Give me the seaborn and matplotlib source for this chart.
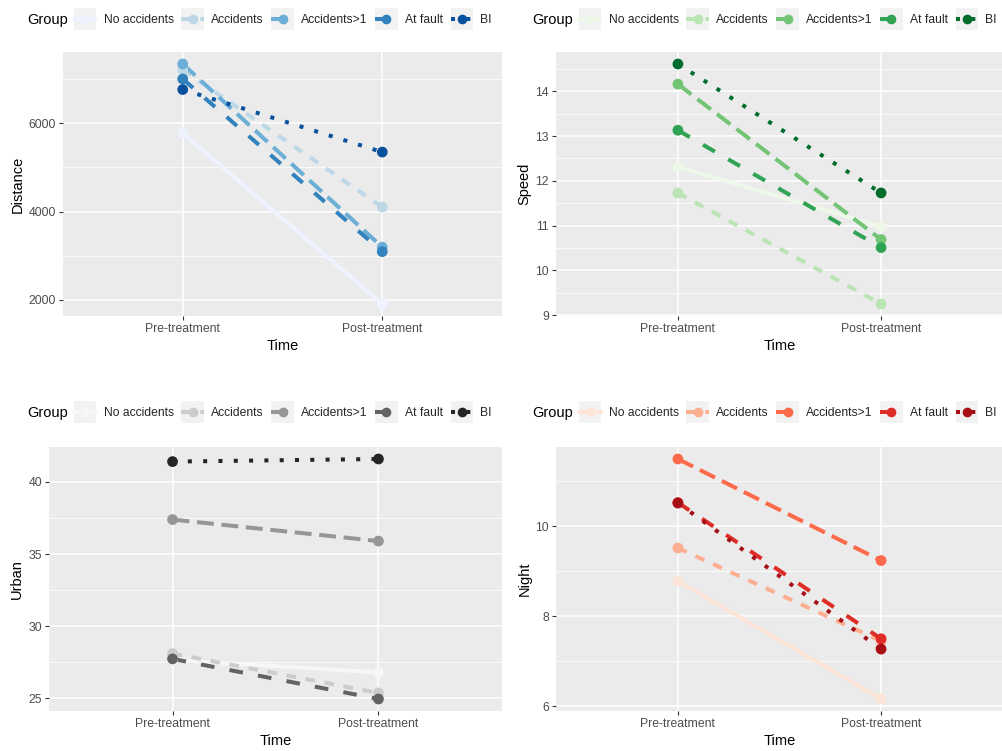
import numpy as np
import pandas as pd
import matplotlib
matplotlib.use("Agg")
import matplotlib.pyplot as plt
import seaborn as sns
from matplotlib.lines import Line2D
from matplotlib.patches import Rectangle
from matplotlib.legend_handler import HandlerLine2D
from matplotlib.ticker import MultipleLocator

# ---------------- data ----------------
time_labels = ["Pre-treatment", "Post-treatment"]
groups = ["No accidents", "Accidents", "Accidents>1", "At fault", "BI"]

distance_pre = [5780, 7220, 7350, 7010, 6770]
distance_post = [1900, 4100, 3190, 3090, 5350]
speed_pre = [12.31, 11.73, 14.16, 13.13, 14.61]
speed_post = [10.98, 9.25, 10.69, 10.51, 11.73]
urban_pre = [27.65, 28.10, 37.39, 27.73, 41.41]
urban_post = [26.80, 25.37, 35.90, 24.95, 41.59]
night_pre = [8.78, 9.52, 11.50, 10.53, 10.52]
night_post = [6.16, 7.45, 9.24, 7.50, 7.27]

blues = ["#EFF3FF", "#BDD7E7", "#6BAED6", "#3182BD", "#08519C"]
greens = ["#EDF8E9", "#BAE4B3", "#74C476", "#31A354", "#006D2C"]
greys = ["#F7F7F7", "#CCCCCC", "#969696", "#636363", "#252525"]
reds = ["#FEE5D9", "#FCAE91", "#FB6A4A", "#DE2D26", "#A50F15"]

y_ticks_distance = [2000, 4000, 6000]
y_ticks_speed = [9, 10, 11, 12, 13, 14]
y_ticks_urban = [25, 30, 35, 40]
y_ticks_night = [6, 8, 10]

# ---------------- style ----------------
sns.set_theme(style="darkgrid")
plt.rcParams["font.family"] = ["Liberation Sans", "DejaVu Sans"]

dash_map = {
    "No accidents": "",
    "Accidents": (2.4, 2.4),
    "Accidents>1": (4.2, 1.9),
    "At fault": (3.4, 3.8),
    "BI": (1.0, 2.8),
}
LW = 2.9

panels = [
    ("Distance", distance_pre, distance_post, blues, y_ticks_distance, 1000,
     [63 / 1003, 1 - 316 / 751, 439 / 1003, 264 / 751], 27, 20),
    ("Speed", speed_pre, speed_post, greens, y_ticks_speed, 0.5,
     [556 / 1003, 1 - 316 / 751, 447 / 1003, 264 / 751], 532, 20),
    ("Urban", urban_pre, urban_post, greys, y_ticks_urban, 2.5,
     [49 / 1003, 1 - 711 / 751, 453 / 1003, 264 / 751], 27, 413),
    ("Night", night_pre, night_post, reds, y_ticks_night, 1.0,
     [556 / 1003, 1 - 711 / 751, 447 / 1003, 264 / 751], 532, 413),
]


class KeyHandler(HandlerLine2D):
    def create_artists(self, legend, orig_handle, xdescent, ydescent,
                       width, height, fontsize, trans):
        side = 22 / 100 * 72  # key box in points
        rect = Rectangle((-xdescent, -ydescent + height / 2 - side / 2), width, side,
                         facecolor="#F2F2F2", edgecolor="none", transform=trans)
        arts = super().create_artists(legend, orig_handle, xdescent, ydescent,
                                      width, height, fontsize, trans)
        return [rect] + list(arts)


fig = plt.figure(figsize=(10.03, 7.51), dpi=100)

for name, pre, post, pal, yticks, minor, rect, gx, gy in panels:
    ax = fig.add_axes(rect)
    ax.set_facecolor("#EBEBEB")
    df = pd.DataFrame({
        "Time": [time_labels[0]] * len(groups) + [time_labels[1]] * len(groups),
        "Group": groups + groups,
        name: list(pre) + list(post),
    })
    palette = dict(zip(groups, pal))
    sns.lineplot(data=df, x="Time", y=name, hue="Group", style="Group",
                 hue_order=groups, style_order=groups, palette=palette,
                 dashes=dash_map, linewidth=LW, sort=False, legend=False, ax=ax)
    for ln in ax.get_lines():
        ln.set_solid_capstyle("butt")
        ln.set_dash_capstyle("butt")
    sns.scatterplot(data=df, x="Time", y=name, hue="Group", hue_order=groups,
                    palette=palette, s=60, linewidth=0, legend=False, ax=ax, zorder=5)

    vals = np.array(list(pre) + list(post))
    lo, hi = vals.min(), vals.max()
    pad = 0.05 * (hi - lo)
    ax.set_ylim(lo - pad, hi + pad)
    ax.set_xlim(-0.6, 1.6)
    ax.set_yticks(yticks)
    ax.yaxis.set_minor_locator(MultipleLocator(minor))
    ax.grid(which="major", color="white", linewidth=1.1)
    ax.grid(which="minor", axis="y", color="white", linewidth=0.55)
    ax.set_axisbelow(True)
    for s in ax.spines.values():
        s.set_visible(False)
    ax.tick_params(axis="both", which="major", length=3, width=0.8, color="#333333",
                   labelcolor="#4D4D4D", labelsize=8.8, pad=2, left=True, bottom=True)
    ax.tick_params(axis="both", which="minor", length=0)
    ax.set_xlabel("Time", fontsize=10.5, color="black", labelpad=3)
    ax.set_ylabel(name, fontsize=10.5, color="black", labelpad=3)

    # legend
    handles = [Line2D([0], [0], color=palette[g], lw=LW,
                      linestyle="-" if not dash_map[g] else (0, dash_map[g]),
                      marker="o", markersize=7, markeredgewidth=0)
               for g in groups]
    fig.text(gx / 1003, 1 - gy / 751, "Group", fontsize=10.5, ha="left", va="center",
             color="black")
    fig.legend(handles, groups, loc="center left",
               bbox_to_anchor=((gx + 47) / 1003, 1 - gy / 751),
               ncol=5, frameon=False, fontsize=8.7, handlelength=1.85,
               handletextpad=0.62, columnspacing=0.62, numpoints=1,
               borderpad=0, borderaxespad=0,
               handler_map={Line2D: KeyHandler()})

fig.savefig("out.png", dpi=100, facecolor="white")
